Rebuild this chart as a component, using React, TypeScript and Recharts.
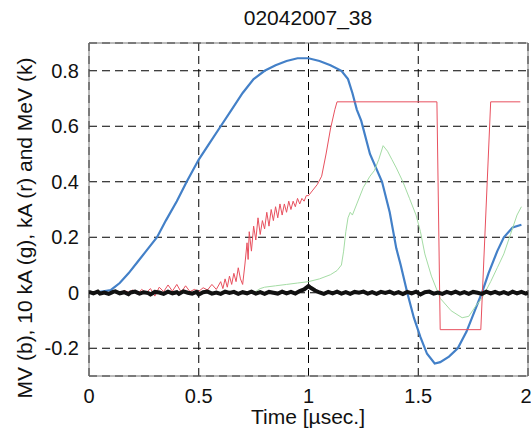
import {
  LineChart,
  Line,
  XAxis,
  YAxis,
  CartesianGrid,
  ReferenceArea,
} from "recharts";

// [time (µs), value] pairs
const VOLTAGE_MV: [number, number][] = [
  [0, 0.0], [0.05, 0.003], [0.1, 0.01], [0.14, 0.035], [0.18, 0.07], [0.22, 0.11],
  [0.26, 0.15], [0.31, 0.2], [0.35, 0.26], [0.4, 0.33], [0.445, 0.4], [0.5, 0.48],
  [0.55, 0.54], [0.6, 0.6], [0.65, 0.66], [0.7, 0.72], [0.75, 0.77], [0.8, 0.8],
  [0.85, 0.82], [0.9, 0.835], [0.95, 0.845], [1.0, 0.845], [1.05, 0.835], [1.1, 0.82],
  [1.15, 0.8], [1.18, 0.77], [1.2, 0.72], [1.22, 0.66], [1.24, 0.62], [1.28, 0.5],
  [1.335, 0.4], [1.37, 0.29], [1.4, 0.16], [1.42, 0.1], [1.45, 0.0], [1.48, -0.09],
  [1.51, -0.16], [1.54, -0.22], [1.575, -0.255], [1.6, -0.25], [1.64, -0.23],
  [1.68, -0.2], [1.72, -0.14], [1.76, -0.06], [1.79, 0.0], [1.82, 0.07], [1.86, 0.15],
  [1.89, 0.2], [1.93, 0.235], [1.97, 0.245],
];

const CURRENT_10KA: [number, number][] = [
  [0.75, 0.0], [0.78, 0.015], [0.8, 0.02], [0.85, 0.025], [0.9, 0.03], [0.95, 0.035],
  [1.0, 0.04], [1.05, 0.05], [1.1, 0.065], [1.13, 0.08], [1.15, 0.1], [1.16, 0.15],
  [1.17, 0.22], [1.18, 0.27], [1.19, 0.29], [1.2, 0.28], [1.22, 0.32], [1.25, 0.38],
  [1.28, 0.42], [1.3, 0.44], [1.32, 0.48], [1.34, 0.53], [1.36, 0.51], [1.38, 0.48],
  [1.4, 0.45], [1.43, 0.4], [1.46, 0.34], [1.49, 0.28], [1.51, 0.22], [1.53, 0.14],
  [1.56, 0.06], [1.6, -0.02], [1.65, -0.065], [1.7, -0.09], [1.73, -0.085],
  [1.76, -0.05], [1.79, -0.02], [1.83, 0.04], [1.86, 0.09], [1.89, 0.14],
  [1.92, 0.21], [1.95, 0.28], [1.97, 0.31],
];

const CURRENT_KA: [number, number][] = [
  [0.1, 0.0], [0.12, 0.006], [0.14, -0.004], [0.16, 0.008], [0.18, 0.002], [0.2, 0.01],
  [0.22, -0.005], [0.24, 0.012], [0.26, 0.0], [0.28, 0.015], [0.3, -0.012], [0.32, 0.02],
  [0.34, 0.004], [0.36, 0.028], [0.38, 0.006], [0.4, 0.03], [0.42, 0.002], [0.44, 0.025],
  [0.46, 0.004], [0.48, 0.012], [0.5, 0.005], [0.52, 0.018], [0.54, 0.01], [0.56, 0.03],
  [0.58, 0.012], [0.6, 0.04], [0.61, 0.015], [0.62, 0.05], [0.63, 0.02], [0.64, 0.06],
  [0.65, 0.03], [0.66, 0.07], [0.67, 0.04], [0.68, 0.09], [0.69, 0.05], [0.7, 0.03],
  [0.71, 0.1], [0.72, 0.18], [0.725, 0.12], [0.73, 0.22], [0.74, 0.15], [0.75, 0.24],
  [0.76, 0.19], [0.77, 0.27], [0.78, 0.21], [0.79, 0.26], [0.8, 0.23], [0.81, 0.29],
  [0.82, 0.24], [0.83, 0.3], [0.84, 0.26], [0.85, 0.31], [0.86, 0.27], [0.87, 0.32],
  [0.88, 0.28], [0.89, 0.32], [0.9, 0.29], [0.91, 0.33], [0.92, 0.3], [0.93, 0.33],
  [0.94, 0.31], [0.95, 0.34], [0.96, 0.32], [0.97, 0.34], [0.98, 0.33], [0.99, 0.35],
  [1.0, 0.35], [1.02, 0.37], [1.04, 0.39], [1.06, 0.42], [1.08, 0.5], [1.1, 0.59],
  [1.12, 0.66], [1.13, 0.688], [1.585, 0.688], [1.6, -0.133], [1.785, -0.133],
  [1.83, 0.688], [1.965, 0.688],
];

const ENERGY_MEV: [number, number][] = [
  [0, 0.003], [0.02, -0.002], [0.04, 0.004], [0.05, -0.003], [0.07, 0.001],
  [0.09, -0.004], [0.11, 0.003], [0.12, 0.005], [0.14, -0.002], [0.16, 0.002],
  [0.18, -0.005], [0.19, 0.001], [0.21, 0.004], [0.23, -0.003], [0.25, 0.002],
  [0.27, -0.001], [0.28, -0.006], [0.3, 0.003], [0.32, 0.001], [0.34, -0.004],
  [0.36, 0.004], [0.38, -0.002], [0.4, 0.002], [0.41, -0.004], [0.43, 0.005],
  [0.45, 0.0], [0.47, -0.003], [0.49, 0.003], [0.5, -0.006], [0.52, 0.002],
  [0.54, 0.004], [0.56, -0.003], [0.58, 0.001], [0.6, -0.004], [0.62, 0.004],
  [0.64, -0.001], [0.66, 0.003], [0.68, -0.004], [0.7, 0.002], [0.72, -0.002],
  [0.74, 0.004], [0.76, -0.003], [0.78, 0.002], [0.8, -0.004], [0.82, 0.003],
  [0.84, 0.0], [0.86, -0.003], [0.88, 0.004], [0.9, -0.002], [0.92, 0.003],
  [0.94, -0.003], [0.96, 0.006], [0.98, 0.012], [1.0, 0.024], [1.01, 0.018],
  [1.03, 0.008], [1.05, 0.001], [1.07, -0.004], [1.09, 0.003], [1.11, -0.002],
  [1.13, 0.004], [1.15, -0.003], [1.17, 0.002], [1.19, -0.004], [1.21, 0.003],
  [1.23, 0.0], [1.25, 0.004], [1.27, -0.003], [1.29, 0.002], [1.31, -0.004],
  [1.33, 0.003], [1.35, -0.001], [1.37, 0.004], [1.39, -0.003], [1.41, 0.002],
  [1.43, -0.005], [1.45, 0.003], [1.47, -0.002], [1.49, 0.004], [1.51, -0.006],
  [1.53, 0.002], [1.55, 0.004], [1.57, -0.003], [1.59, 0.001], [1.61, -0.004],
  [1.63, 0.003], [1.65, -0.002], [1.67, 0.004], [1.69, -0.003], [1.71, 0.002],
  [1.73, -0.004], [1.75, 0.003], [1.77, 0.0], [1.79, -0.004], [1.81, 0.004],
  [1.83, -0.002], [1.85, 0.003], [1.87, -0.003], [1.89, 0.002], [1.91, -0.004],
  [1.93, 0.004], [1.95, -0.002], [1.97, 0.003], [1.99, -0.003], [2.0, 0.001],
];

const X_TICKS = [0, 0.5, 1, 1.5, 2];
const Y_TICKS = [-0.2, 0, 0.2, 0.4, 0.6, 0.8];

const toRows = (pts: [number, number][]) => pts.map(([t, v]) => ({ t, v }));

const SERIES = [
  { name: "MV", data: toRows(VOLTAGE_MV), color: "#4380c8", width: 2.2 },
  { name: "10 kA", data: toRows(CURRENT_10KA), color: "#a4dca4", width: 1 },
  { name: "kA", data: toRows(CURRENT_KA), color: "#e8505e", width: 1 },
  { name: "MeV", data: toRows(ENERGY_MEV), color: "#111111", width: 4 },
];

const FONT = "'Liberation Sans', Arial, Helvetica, sans-serif";
const tickStyle = { fontSize: 20, fill: "#111", fontFamily: FONT };

export default function App() {
  return (
    <div
      style={{
        position: "absolute",
        left: 0,
        top: 0,
        width: 531,
        height: 436,
        background: "#fff",
        fontFamily: FONT,
      }}
    >
      <LineChart
        width={531}
        height={436}
        margin={{ top: 43, right: 3, bottom: 20, left: 29 }}
      >
        <CartesianGrid stroke="#000" strokeDasharray="8 5" strokeWidth={1} />
        <XAxis
          type="number"
          dataKey="t"
          domain={[0, 2]}
          ticks={X_TICKS}
          tick={tickStyle}
          tickLine={false}
          axisLine={false}
          height={40}
          tickMargin={7}
          allowDataOverflow
        />
        <YAxis
          type="number"
          dataKey="v"
          domain={[-0.3, 0.9]}
          ticks={Y_TICKS}
          tick={tickStyle}
          tickLine={false}
          axisLine={false}
          width={60}
          tickMargin={4}
          allowDataOverflow
        />
        <ReferenceArea
          x1={0}
          x2={2}
          y1={-0.3}
          y2={0.9}
          fill="none"
          stroke="#777"
          strokeWidth={1}
          ifOverflow="visible"
        />
        {SERIES.map((s) => (
          <Line
            key={s.name}
            data={s.data}
            dataKey="v"
            name={s.name}
            type="linear"
            stroke={s.color}
            strokeWidth={s.width}
            dot={false}
            isAnimationActive={false}
          />
        ))}
      </LineChart>
      <div
        style={{
          position: "absolute",
          left: 208,
          top: 6,
          width: 200,
          textAlign: "center",
          fontSize: 21,
          color: "#111",
        }}
      >
        02042007_38
      </div>
      <div
        style={{
          position: "absolute",
          left: 208,
          top: 405,
          width: 200,
          textAlign: "center",
          fontSize: 21,
          color: "#111",
        }}
      >
        Time [µsec.]
      </div>
      <div
        style={{
          position: "absolute",
          left: 25 - 220,
          top: 228 - 13,
          width: 440,
          height: 26,
          lineHeight: "26px",
          textAlign: "center",
          fontSize: 21,
          color: "#111",
          transform: "rotate(-90deg)",
          whiteSpace: "nowrap",
        }}
      >
        MV (b), 10 kA (g), kA (r) and MeV (k)
      </div>
    </div>
  );
}
